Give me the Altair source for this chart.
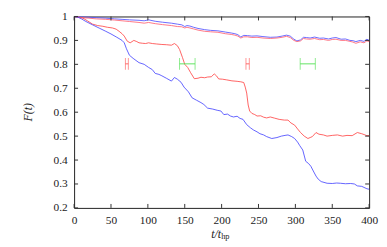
import altair as alt
import pandas as pd

# ---- data ----
t_b2 = [0, 5, 10, 16, 25, 35, 43, 50, 58, 65,
        68, 71, 75, 80, 88, 95, 101, 106, 110, 115,
        119, 125, 132, 136, 140, 145, 149, 155, 160, 166,
        172, 176, 181, 188, 194, 199, 203, 208, 212, 216,
        221, 225, 229, 234, 239, 243, 248, 252, 257, 261,
        268, 275, 281, 286, 290, 295, 299, 303, 306, 310,
        314, 318, 321, 325, 328, 331, 335, 343, 350, 356,
        361, 368, 375, 380, 384, 390, 397, 400]
f_b2 = [1.0, 0.997, 0.99, 0.979, 0.965, 0.95, 0.938, 0.927, 0.913, 0.9,
        0.89, 0.865, 0.838, 0.825, 0.807, 0.8, 0.787, 0.778, 0.762, 0.758,
        0.752, 0.742, 0.73, 0.745, 0.738, 0.725, 0.705, 0.685, 0.66, 0.65,
        0.64, 0.632, 0.617, 0.613, 0.608, 0.605, 0.59, 0.592, 0.584, 0.58,
        0.583, 0.574, 0.57, 0.548, 0.535, 0.526, 0.518, 0.51, 0.505, 0.498,
        0.49, 0.494, 0.5, 0.503, 0.505, 0.498, 0.49, 0.475, 0.46, 0.442,
        0.395, 0.385, 0.374, 0.35, 0.333, 0.32, 0.31, 0.303, 0.302, 0.304,
        0.303, 0.301, 0.302, 0.3, 0.292, 0.29, 0.28, 0.278]

t_r2 = [0, 5, 12, 18, 25, 32, 39, 45, 52, 57,
        61, 65, 68, 72, 76, 81, 85, 88, 93, 97,
        101, 106, 112, 119, 125, 132, 136, 140, 143, 147,
        150, 154, 158, 163, 168, 172, 177, 181, 186, 190,
        193, 196, 201, 207, 214, 221, 226, 230, 232, 234,
        236, 238, 241, 245, 248, 253, 257, 261, 266, 272,
        278, 285, 290, 294, 299, 303, 307, 312, 317, 320,
        323, 328, 332, 338, 343, 350, 357, 364, 370, 377,
        384, 390, 397, 400]
f_r2 = [1.0, 0.998, 0.993, 0.982, 0.968, 0.962, 0.959, 0.955, 0.952, 0.947,
        0.938, 0.928, 0.918, 0.897, 0.89, 0.9, 0.895, 0.89, 0.888, 0.887,
        0.89, 0.887, 0.885, 0.883, 0.882, 0.88, 0.887, 0.878, 0.862, 0.828,
        0.8, 0.787, 0.765, 0.74, 0.742, 0.746, 0.744, 0.747, 0.748, 0.76,
        0.752, 0.739, 0.738, 0.735, 0.731, 0.729, 0.727, 0.724, 0.705, 0.68,
        0.63, 0.605, 0.595, 0.59, 0.584, 0.585, 0.579, 0.576, 0.58, 0.575,
        0.57, 0.567, 0.567, 0.555, 0.546, 0.53, 0.515, 0.5, 0.49, 0.494,
        0.498, 0.515, 0.508, 0.505, 0.5, 0.503, 0.505, 0.5, 0.503, 0.502,
        0.515, 0.51, 0.502, 0.502]

t_up = [0, 10, 20, 30, 43, 55, 65, 75, 88, 95,
        101, 110, 120, 132, 140, 146, 150, 153, 157, 162,
        168, 177, 185, 195, 205, 213, 218, 222, 226, 230,
        235, 241, 248, 256, 266, 275, 282, 288, 293, 298,
        302, 307, 311, 315, 320, 326, 333, 338, 345, 350,
        355, 362, 368, 374, 378, 382, 388, 393, 397, 400]
f_b1 = [1.0, 0.998, 0.997, 0.995, 0.993, 0.99, 0.988, 0.986, 0.984, 0.982,
        0.986, 0.98, 0.976, 0.972, 0.968, 0.965, 0.958, 0.962, 0.96, 0.955,
        0.95, 0.945, 0.942, 0.94, 0.935, 0.931, 0.928, 0.924, 0.914, 0.921,
        0.92, 0.918, 0.919, 0.916, 0.913, 0.914, 0.918, 0.922, 0.918, 0.905,
        0.898, 0.902, 0.913, 0.912, 0.91, 0.914, 0.909, 0.91, 0.906, 0.91,
        0.912, 0.905, 0.906, 0.9, 0.899, 0.895, 0.9, 0.896, 0.905, 0.9]
f_r1 = [1.0, 0.995, 0.993, 0.99, 0.988, 0.985, 0.982, 0.979, 0.975, 0.972,
        0.975, 0.97, 0.966, 0.962, 0.958, 0.957, 0.952, 0.955, 0.952, 0.948,
        0.943, 0.938, 0.936, 0.934, 0.928, 0.925, 0.922, 0.918, 0.91, 0.915,
        0.915, 0.912, 0.913, 0.91, 0.908, 0.91, 0.913, 0.917, 0.912, 0.9,
        0.895, 0.898, 0.908, 0.906, 0.905, 0.908, 0.903, 0.904, 0.9, 0.904,
        0.905, 0.9, 0.9, 0.896, 0.893, 0.888, 0.894, 0.89, 0.898, 0.895]

# error bars at F = 0.8
eb_lo = [69.5, 143, 233, 306.5]
eb_hi = [73.5, 164, 237.5, 327]
eb_y = [0.802, 0.802, 0.802, 0.802]
eb_s = ["r", "g", "r", "g"]

x_ticks = [0, 50, 100, 150, 200, 250, 300, 350, 400]
y_ticks = [0.2, 0.3, 0.4, 0.5, 0.6, 0.7, 0.8, 0.9, 1.0]

# ---- build tables ----
rows = []
for name, ts, fs in [("b1", t_up, f_b1), ("r1", t_up, f_r1),
                     ("r2", t_r2, f_r2), ("b2", t_b2, f_b2)]:
    assert len(ts) == len(fs), name
    for t, f in zip(ts, fs):
        rows.append({"s": name, "t": t, "F": f})
lines_df = pd.DataFrame(rows)
eb_df = pd.DataFrame({"lo": eb_lo, "hi": eb_hi, "F": eb_y, "s": eb_s})
xt_df = pd.DataFrame({"v": x_ticks})
yt_df = pd.DataFrame({"v": y_ticks})

W, H = 299, 194
FONT = "Liberation Serif"

xs = alt.Scale(domain=[0, 400], nice=False, zero=False)
ys = alt.Scale(domain=[0.2, 1.0], nice=False, zero=False)

color = alt.Color("s:N", legend=None,
                  scale=alt.Scale(domain=["b1", "r1", "r2", "b2", "r", "g"],
                                  range=["#5050ff", "#ff6070", "#ff4848", "#4848ff",
                                         "#ff5858", "#50e050"]))

x_axis = alt.Axis(values=x_ticks, ticks=False, domain=False, grid=False,
                  labelOverlap=False, labelFlush=False, labelBound=False,
                  labelFont=FONT, labelFontSize=11.5, labelColor="#222",
                  labelPadding=7)
y_axis = alt.Axis(values=y_ticks, ticks=False, domain=False, grid=False,
                  labelOverlap=False, labelFlush=False, labelBound=False,
                  format=".1~f", labelFont=FONT, labelFontSize=11.5,
                  labelColor="#222", labelPadding=7)


def ax_x(f):
    return alt.X(f, scale=xs, axis=x_axis, title=None)


def ax_y(f):
    return alt.Y(f, scale=ys, axis=y_axis, title=None)


lines = alt.Chart(lines_df).mark_line(strokeWidth=0.85, interpolate="linear").encode(
    x=ax_x("t:Q"), y=ax_y("F:Q"), color=color, detail="s:N", order="t:Q")

eb_h = alt.Chart(eb_df).mark_rule(strokeWidth=0.9).encode(
    x=ax_x("lo:Q"), x2="hi:Q", y=ax_y("F:Q"), color=color)
eb_c1 = alt.Chart(eb_df).mark_tick(orient="vertical", size=12, thickness=0.9).encode(
    x=ax_x("lo:Q"), y=ax_y("F:Q"), color=color)
eb_c2 = alt.Chart(eb_df).mark_tick(orient="vertical", size=12, thickness=0.9).encode(
    x=ax_x("hi:Q"), y=ax_y("F:Q"), color=color)

tk = dict(color="#333", strokeWidth=1)
ytl = alt.Chart(yt_df).mark_rule(**tk).encode(
    y=ax_y("v:Q"), x=alt.value(0), x2=alt.value(4))
ytr = alt.Chart(yt_df).mark_rule(**tk).encode(
    y=ax_y("v:Q"), x=alt.value(W - 4), x2=alt.value(W))
xtb = alt.Chart(xt_df).mark_rule(**tk).encode(
    x=ax_x("v:Q"), y=alt.value(H - 4), y2=alt.value(H))
xtt = alt.Chart(xt_df).mark_rule(**tk).encode(
    x=ax_x("v:Q"), y=alt.value(0), y2=alt.value(4))

ytitle = alt.Chart(pd.DataFrame({"txt": ["F(t)"]})).mark_text(
    font=FONT, fontSize=12, fontStyle="italic", angle=270, color="#222").encode(
    text="txt:N", x=alt.value(-47), y=alt.value(H / 2))
xt1 = alt.Chart(pd.DataFrame({"txt": ["t/t"]})).mark_text(
    font=FONT, fontSize=12, fontStyle="italic", align="right", color="#222").encode(
    text="txt:N", x=alt.value(149), y=alt.value(H + 26))
xt2 = alt.Chart(pd.DataFrame({"txt": ["hp"]})).mark_text(
    font=FONT, fontSize=8.5, align="left", color="#222").encode(
    text="txt:N", x=alt.value(149), y=alt.value(H + 29))

chart = alt.layer(lines, eb_h, eb_c1, eb_c2, ytl, ytr, xtb, xtt, ytitle, xt1, xt2).properties(
    width=W, height=H,
    padding={"left": 67, "top": 7, "right": 10, "bottom": 36},
    autosize=alt.AutoSizeParams(type="none"),
).configure_view(stroke="#222", strokeWidth=1)

chart.save("out.html", embed_options={"renderer": "svg", "actions": False})
